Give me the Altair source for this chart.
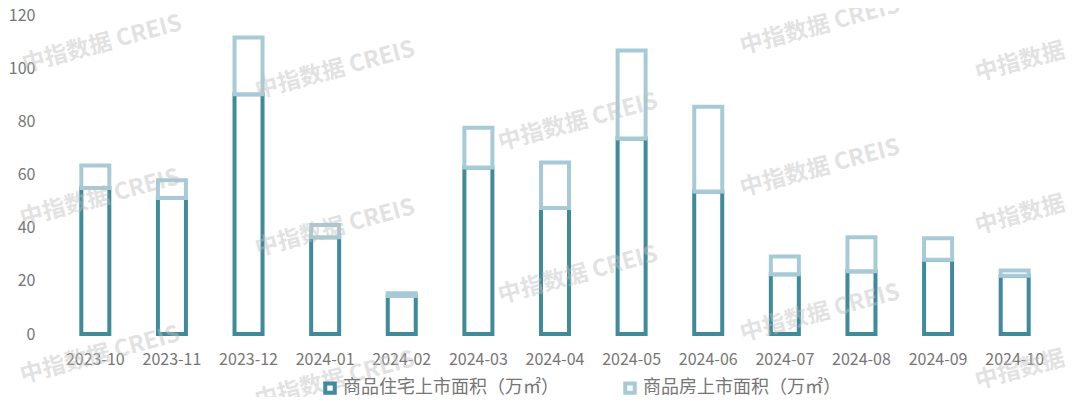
import altair as alt
import pandas as pd

months = ["2023-10", "2023-11", "2023-12", "2024-01", "2024-02", "2024-03", "2024-04",
          "2024-05", "2024-06", "2024-07", "2024-08", "2024-09", "2024-10"]
residential = [54.9, 51.2, 90.2, 36.4, 14.3, 62.6, 47.4, 73.5, 53.6, 22.5, 23.6, 27.9, 21.9]
commercial_total = [63.4, 57.8, 111.5, 41.0, 15.3, 77.6, 64.5, 106.6, 85.5, 29.2, 36.4, 36.0, 23.9]
series_names = ["商品住宅上市面积（万㎡）", "商品房上市面积（万㎡）"]
y_ticks = [0, 20, 40, 60, 80, 100, 120]

wm_text = ["中指数据 CREIS"] * 11 + ["中指数据"] * 3
wm_x = [102, 335, 820, 100, 335, 578, 820, 100, 335, 578, 820, 1020, 1020, 1020]
wm_y = [44, 70, 26, 198, 228, 122, 168, 355, 380, 275, 313, 62, 215, 370]

DARK = "#3f8a9b"
LIGHT = "#a7cbd6"
TEXT = "#767676"
FONT = "Noto Sans CJK SC"
PLOT_LEFT, PLOT_TOP = 57, 15

rows = []
for m, r in zip(months, residential):
    rows.append({"month": m, "series": series_names[0], "low": 0, "high": r, "ord": 0})
for m, r, t in zip(months, residential, commercial_total):
    rows.append({"month": m, "series": series_names[1], "low": r, "high": t, "ord": 1})
df = pd.DataFrame(rows)

wm_df = pd.DataFrame({
    "label": wm_text,
    "px": [x - PLOT_LEFT for x in wm_x],
    "py": [y - PLOT_TOP for y in wm_y],
})

bars = alt.Chart(df).mark_bar(fill="white", strokeWidth=4, size=28).encode(
    x=alt.X("month:N", sort=months,
            scale=alt.Scale(paddingInner=0, paddingOuter=0),
            axis=alt.Axis(title=None, labelAngle=0, domain=False, ticks=False,
                          labelPadding=17, labelFontSize=16, labelColor=TEXT,
                          labelFont=FONT, grid=False)),
    y=alt.Y("low:Q", scale=alt.Scale(domain=[0, 120], nice=False),
            axis=alt.Axis(values=y_ticks, title=None, grid=False, domain=False,
                          ticks=False, labelPadding=22, labelFontSize=16,
                          labelColor=TEXT, labelFont=FONT)),
    y2="high:Q",
    stroke=alt.Stroke("series:N",
                      scale=alt.Scale(domain=series_names, range=[DARK, LIGHT]),
                      legend=alt.Legend(title=None, orient="none", legendX=264, legendY=364,
                                        direction="horizontal", columns=2,
                                        symbolType="square", symbolSize=90,
                                        symbolStrokeWidth=4, symbolFillColor="white",
                                        labelFontSize=18, labelColor=TEXT, labelFont=FONT,
                                        labelLimit=500, labelOffset=4, columnPadding=58,
                                        padding=0)),
    order=alt.Order("ord:Q"),
)

wm = alt.Chart(wm_df).mark_text(font=FONT, fontSize=23, fontWeight="bold",
                                color="#bfbfbf", opacity=0.45, angle=345).encode(
    x=alt.X("px:Q", scale=None, axis=None),
    y=alt.Y("py:Q", scale=None, axis=None),
    text="label:N",
)

chart = alt.layer(bars, wm).resolve_scale(x="independent", y="independent").properties(
    width=996, height=319,
    autosize=alt.AutoSizeParams(type="none"),
    padding={"left": 49, "top": 7, "right": 19, "bottom": 63},
    background="white",
).configure_view(stroke=None)

chart.save("out.html", embed_options={"renderer": "svg", "actions": False})
